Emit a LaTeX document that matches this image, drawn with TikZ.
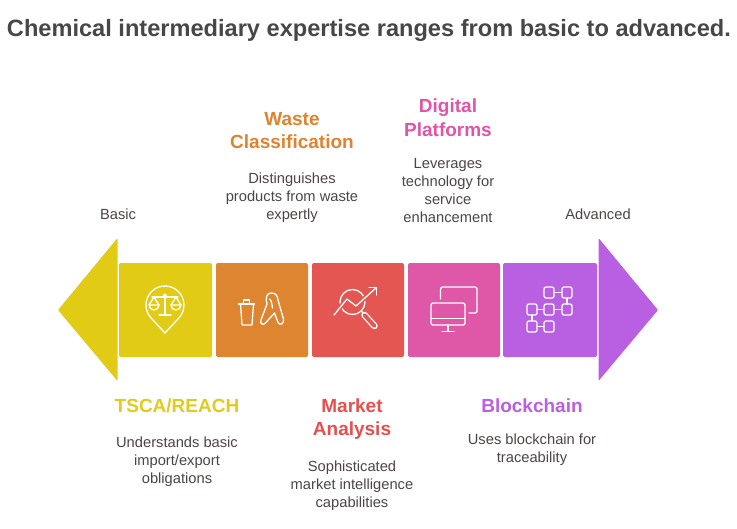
\documentclass[tikz,border=0pt]{standalone}
\usepackage{fontspec}
\setmainfont{Liberation Sans}
\definecolor{yel}{HTML}{E1CB15}
\definecolor{ora}{HTML}{DD8530}
\definecolor{red}{HTML}{E35652}
\definecolor{pnk}{HTML}{DF58A7}
\definecolor{pur}{HTML}{B960E2}
\definecolor{yelt}{HTML}{E0CB1E}
\definecolor{orat}{HTML}{E0832E}
\definecolor{redt}{HTML}{E5504F}
\definecolor{pnkt}{HTML}{E055A7}
\definecolor{purt}{HTML}{B95FE0}
\definecolor{titlec}{HTML}{474747}
\definecolor{bodyc}{HTML}{4D4545}
\begin{document}
\begin{tikzpicture}[x=1pt,y=-1pt,
  body/.style={font=\fontsize{14.7}{18}\selectfont, text=bodyc, align=center, inner sep=0pt},
  lab/.style={font=\fontsize{19}{23.5}\selectfont\bfseries, align=center, inner sep=0pt},
  ico/.style={draw=white, line width=1.3pt, line cap=round, line join=round},
  seg/.style={rounded corners=2pt},
  tip/.style={rounded corners=1pt}]
\useasboundingbox[fill=white] (0,0) rectangle (737,528);

% title
\node[font=\fontsize{23.6}{28}\selectfont\bfseries, text=titlec, anchor=base, inner sep=0pt] (title) at (369,36.5) {Chemical intermediary expertise ranges from basic to advanced.};

% arrow heads
\fill[yel, tip] (117.5,238) -- (58,310) -- (117.5,381) -- cycle;
\fill[pur, tip] (598.5,238) -- (658,310) -- (598.5,381) -- cycle;

% segments
\fill[yel, seg] (119,263) rectangle (212,357);
\fill[ora, seg] (216,263) rectangle (308,357);
\fill[red, seg] (312,263) rectangle (404,357);
\fill[pnk, seg] (408,263) rectangle (500,357);
\fill[pur, seg] (503,263) rectangle (597,357);

% icon 1: scale in a pin
\draw[ico] (165,333) -- (151.0,317.9) arc[start angle=137.3, end angle=402.7, radius=19] -- cycle;
\draw[ico] (152,297) -- (178,297);
\draw[ico] (165,295.5) circle[radius=1.5];
\draw[ico] (165,297) -- (165,315) (159,315) -- (171,315);
\draw[ico] (149,305) -- (154,297) -- (159,305);
\draw[ico] (171,305) -- (176,297) -- (181,305);
\draw[ico] (149,305) -- (159,305) arc[start angle=0, end angle=180, radius=5] -- cycle;
\draw[ico] (171,305) -- (181,305) arc[start angle=0, end angle=180, radius=5] -- cycle;

% icon 2: cup and figure
\draw[ico] (238.5,304) -- (254.5,304);
\draw[ico] (243.5,304) -- (243.5,300) -- (249.5,300) -- (249.5,304);
\draw[ico] (240.5,304) -- (242,325) -- (252,325) -- (253.5,304);
\draw[ico] (267,304) .. controls (265,297) and (267,293) .. (271.5,293)
  .. controls (276,293) and (277.5,296) .. (278,300) -- (283.5,319)
  .. controls (284.5,324) and (279.5,326) .. (278,322.5) -- (274.5,313) -- (265.5,323)
  .. controls (263,326) and (259.5,323.5) .. (261,320) -- cycle;
\draw[ico] (269.5,299) .. controls (271,300) and (272,303) .. (272.5,308);

% icon 3: market analysis
\draw[ico] (352.5,302) circle[radius=12.5];
\draw[line width=1.3pt, white, line cap=round] (361.5,311) -- (363,313);
\draw[white, line width=6.5pt, line cap=round] (364.5,315) -- (374.5,326);
\draw[red, line width=3.9pt, line cap=round] (364.5,315) -- (374.5,326);
\draw[red, line width=4.5pt, line join=round] (334,315) -- (347,299) -- (356,306) -- (376,288);
\draw[ico] (334,315) -- (347,299) -- (356,306) -- (376.5,287.5);
\draw[ico] (369,287.5) -- (376.5,287.5) -- (376.5,295);

% icon 4: monitors
\draw[ico, rounded corners=2pt] (440.5,299) -- (440.5,287) -- (477,287) -- (477,313) -- (469,313);
\draw[ico, rounded corners=2pt] (431,303) rectangle (465,325);
\draw[ico] (431,318.5) -- (465,318.5);
\draw[ico] (448,325) -- (448,331.5) (442,331.5) -- (454,331.5);

% icon 5: blockchain
\foreach \x/\y in {544/287, 562/287, 527/304, 544/304, 562/304, 527/321, 544/321}
  \draw[ico, rounded corners=2pt] (\x,\y) rectangle ++(10,11);
\draw[ico] (554,292.5) -- (562,292.5) (537,309.5) -- (544,309.5) (554,309.5) -- (562,309.5)
  (537,326.5) -- (544,326.5) (567,298) -- (567,304) (532,315) -- (532,321);

% end labels
\node[body] (basic) at (118,214) {Basic};
\node[body] (adv) at (598,214) {Advanced};

% top labels
\node[lab, text=orat] (wasteT) at (292,130.5) {Waste\\Classification};
\node[body] (wasteD) at (292,197.2) {Distinguishes\\products from waste\\expertly};
\node[lab, text=pnkt] (digT) at (448,117.5) {Digital\\Platforms};
\node[body] (digD) at (448,191) {Leverages\\technology for\\service\\enhancement};

% bottom labels
\node[lab, text=yelt] (tscaT) at (177,406) {TSCA/REACH};
\node[body] (tscaD) at (177,461.2) {Understands basic\\import/export\\obligations};
\node[lab, text=redt] (mktT) at (352,419) {Market\\Analysis};
\node[body] (mktD) at (352,485.2) {Sophisticated\\market intelligence\\capabilities};
\node[lab, text=purt] (blkT) at (532,406) {Blockchain};
\node[body] (blkD) at (532,450) {Uses blockchain for\\traceability};
\end{tikzpicture}
\end{document}
